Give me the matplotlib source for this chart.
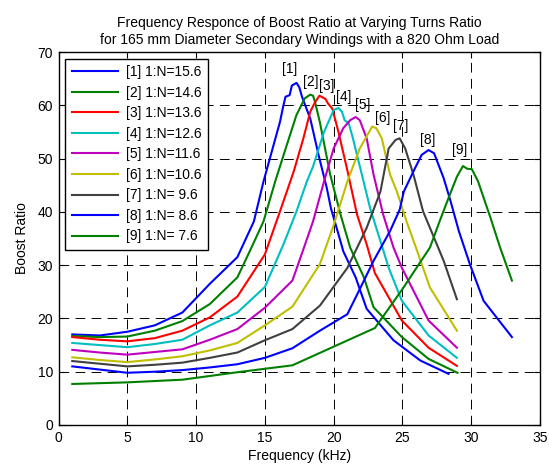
import numpy as np
import matplotlib
matplotlib.use("Agg")
import matplotlib.pyplot as plt

plt.rcParams['font.family'] = ['Liberation Sans', 'DejaVu Sans']

# turns ratios for the nine windings
turns = ['15.6', '14.6', '13.6', '12.6', '11.6', '10.6', ' 9.6', ' 8.6', ' 7.6']

# frequency (kHz) / boost ratio for each winding
f1 = [1, 3, 5, 7, 9, 11, 13, 14.2, 14.9, 15.5, 16.1, 16.35, 16.5, 16.8, 16.96, 17.3, 17.5, 17.7,
      18.3, 18.9, 19.5, 19.8, 20.35, 20.7, 21.6, 22.4, 24.35, 26.3, 28.35]
b1 = [17.0, 16.8, 17.5, 18.7, 21.1, 26.5, 31.5, 38.2, 45.7, 51.3, 56.9, 60.0, 61.6, 61.9, 63.7, 64.2, 63.4, 61.6,
      57.5, 50.7, 44.5, 40.7, 35.8, 32.6, 27.7, 21.8, 15.9, 12.1, 9.6]

f2 = [1, 3, 5, 7, 9, 11, 13, 13.9, 14.9, 15.75, 16.6, 17.3, 17.9, 18.3, 18.5, 18.65, 19.0,
      19.75, 20.5, 21.2, 22.2, 22.9, 24.96, 26.9, 29.0]
b2 = [16.7, 16.5, 16.6, 17.7, 19.5, 22.7, 27.7, 32.6, 38.2, 45.7, 52.6, 58.2, 61.3, 62.0, 61.8, 60.6, 56.8,
      47.0, 39.5, 33.3, 27.7, 22.1, 16.5, 12.4, 9.8]

f3 = [1, 3, 5, 7, 9, 11, 13, 15, 16.1, 17.1, 17.8, 18.3, 18.65, 18.97, 19.4, 19.6, 19.9, 20.35,
      20.96, 21.7, 22.4, 23.0, 24.96, 26.9, 28.96]
b3 = [16.5, 16.0, 15.7, 16.3, 17.7, 20.2, 24.1, 32.0, 40.1, 47.6, 53.8, 58.8, 60.6, 61.8, 61.2, 60.3, 59.4, 55.0,
      48.2, 39.5, 33.9, 28.5, 19.6, 14.5, 11.1]

f4 = [1, 3, 5, 7, 9, 11, 13, 15, 16.35, 17.3, 18.05, 18.5, 19.3, 20.0, 20.35, 20.6, 20.8, 21.1, 21.4,
      22.05, 22.65, 23.4, 24.0, 24.96, 26.9, 28.96]
b4 = [15.4, 15.0, 14.6, 15.2, 16.0, 18.7, 21.1, 25.9, 33.9, 40.1, 45.7, 48.5, 55.0, 59.1, 59.5, 58.8, 57.2, 56.6, 53.8,
      47.0, 40.7, 34.5, 29.5, 23.3, 16.8, 12.6]

f5 = [1, 3, 5, 7, 9, 11, 13, 15, 17, 17.6, 18.5, 19.3, 20.0, 20.7, 21.2, 21.6, 21.9, 22.4, 22.9,
      23.6, 24.35, 24.96, 26.9, 28.96]
b5 = [14.1, 13.6, 13.2, 13.7, 14.2, 16.0, 18.0, 22.0, 27.1, 31.5, 38.2, 45.7, 51.9, 55.7, 57.2, 57.8, 57.2, 53.8, 47.0,
      39.5, 33.3, 29.5, 19.6, 14.5]

f6 = [1, 3, 5, 7, 9, 11, 13, 15, 17, 19, 20.0, 21.0, 21.9, 22.8, 23.1, 23.5, 24.1, 24.6, 25.3,
      25.9, 27.0, 28.96]
b6 = [12.7, 12.2, 11.8, 12.3, 12.9, 14.0, 15.4, 18.7, 22.2, 30.2, 37.5, 45.7, 51.9, 56.0, 55.7, 53.8, 47.0, 43.8, 38.2,
      33.9, 25.8, 17.7]

f7 = [1, 3, 5, 7, 9, 11, 13, 15, 17, 19, 21, 22.4, 23.4, 24.0, 24.5, 24.8, 25.2, 25.8, 26.5,
      27.0, 28.0, 28.96]
b7 = [12.0, 11.5, 11.0, 11.3, 11.7, 12.6, 13.6, 15.9, 18.0, 22.4, 29.5, 37.0, 43.8, 51.9, 53.5, 53.8, 51.9, 47.0, 40.1,
      37.0, 30.8, 23.6]

f8 = [1, 3, 5, 7, 9, 11, 13, 15, 17, 19, 21, 21.9, 22.9, 24.1, 24.8, 25.1, 25.8, 26.4, 26.9, 27.3,
      28.0, 28.5, 29.1, 29.9, 30.9, 32.96]
b8 = [11.0, 10.4, 9.8, 10.0, 10.3, 10.8, 11.4, 12.6, 14.4, 17.7, 20.8, 25.5, 30.8, 36.4, 40.4, 43.8, 47.6, 50.7, 51.6, 51.0,
      46.3, 42.0, 36.4, 30.2, 23.3, 16.5]

f9 = [1, 5, 9, 13, 17, 23, 25, 27, 27.7, 28.35, 28.96, 29.4, 29.7, 30.05, 30.5, 31.4, 32.1, 32.96]
b9 = [7.7, 8.0, 8.5, 9.9, 11.2, 18.2, 25.5, 33.3, 38.2, 42.6, 46.6, 48.6, 48.1, 48.0, 45.7, 38.9, 33.3, 27.1]

freqs = [f1, f2, f3, f4, f5, f6, f7, f8, f9]
boosts = [b1, b2, b3, b4, b5, b6, b7, b8, b9]

# where the [n] tags sit above each peak
tag_x = [16.8, 18.3, 19.5, 20.7, 22.1, 23.6, 24.9, 26.85, 29.15]
tag_y = [66.8, 64.4, 63.7, 61.6, 60.0, 57.6, 56.2, 53.4, 51.6]

# matlab default line colour order
colors = [(0, 0, 1), (0, 0.5, 0), (1, 0, 0), (0, 0.75, 0.75), (0.75, 0, 0.75),
          (0.75, 0.75, 0), (0.25, 0.25, 0.25), (0, 0, 1), (0, 0.5, 0)]

fig = plt.figure(figsize=(5.49, 4.66), dpi=100)
ax = fig.add_axes([0.1066, 0.088, 0.8770, 0.8004])

for i in range(9):
    ax.plot(freqs[i], boosts[i], color=colors[i], lw=1.5,
            label='[%d] 1:N=%s' % (i + 1, turns[i]))
    ax.text(tag_x[i], tag_y[i], '[%d]' % (i + 1), ha='center', va='center', fontsize=10)

ax.set_xlim(0, 35)
ax.set_ylim(0, 70)
ax.set_xticks(np.arange(0, 36, 5))
ax.set_yticks(np.arange(0, 71, 10))
ax.tick_params(direction='in', top=True, right=True, length=4, width=0.8, labelsize=10, pad=4)
ax.grid(True, color='k', lw=0.7, linestyle=(0, (10, 6.5)))
for s in ax.spines.values():
    s.set_linewidth(1.0)

ax.set_xlabel('Frequency (kHz)', fontsize=10, labelpad=3)
ax.set_ylabel('Boost Ratio', fontsize=10, labelpad=6)
ax.set_title('Frequency Responce of Boost Ratio at Varying Turns Ratio\n'
             'for 165 mm Diameter Secondary Windings with a 820 Ohm Load',
             fontsize=10, pad=6, linespacing=1.2)

leg = ax.legend(loc='upper left', fontsize=10, handlelength=3.3, labelspacing=0.47,
                borderaxespad=0.5, fancybox=False, framealpha=1, edgecolor='k',
                borderpad=0.45, handletextpad=0.6)
leg.get_frame().set_linewidth(1.0)

fig.savefig('out.png', dpi=100)
